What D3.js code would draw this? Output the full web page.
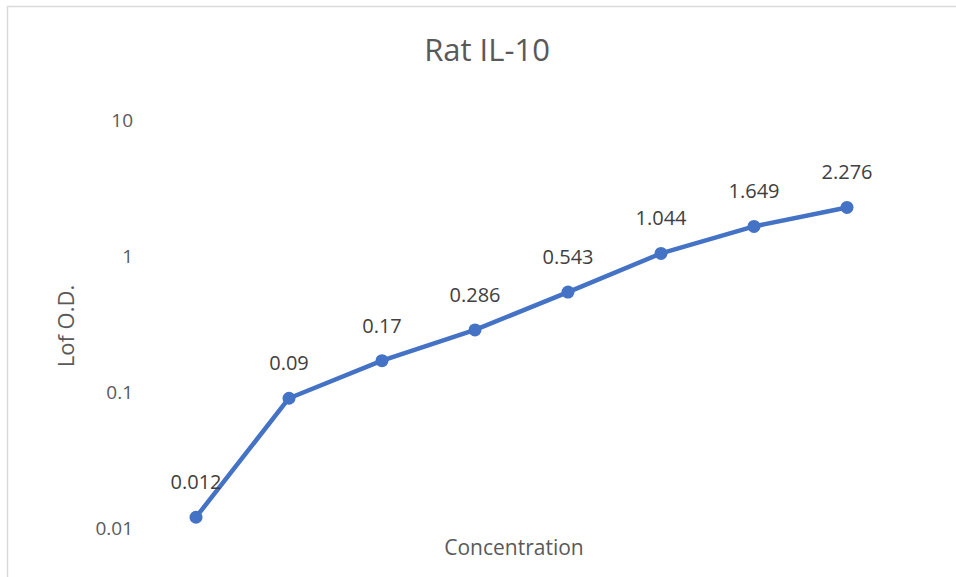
<!DOCTYPE html>
<html>
<head>
<meta charset="utf-8">
<script src="https://cdn.jsdelivr.net/npm/d3@7"></script>
<style>
  body { margin: 0; background: #fff; }
  text { font-family: "Open Sans", "DejaVu Sans", sans-serif; }
</style>
</head>
<body>
<div id="chart"></div>
<script>
var categories = [1, 2, 3, 4, 5, 6, 7, 8];
var values = [0.012, 0.09, 0.17, 0.286, 0.543, 1.044, 1.649, 2.276];
var yTicks = [0.01, 0.1, 1, 10];

var width = 956, height = 577;

var svg = d3.select('#chart')
            .append('svg')
            .attr('width', width)
            .attr('height', height);

// chart area border
svg.append('rect')
   .attr('x', 7.5).attr('y', 6.5)
   .attr('width', width).attr('height', height)
   .attr('fill', '#fff')
   .attr('stroke', '#d9d9d9')
   .attr('stroke-width', 1.5);

var xScale = d3.scalePoint()
               .domain(categories)
               .range([149.5, 893.5])
               .padding(0.5);

var yScale = d3.scaleLog()
               .domain([0.01, 10])
               .range([528, 120]);

var yAxis = d3.axisLeft(yScale)
              .tickValues(yTicks)
              .tickFormat(function (d) { return d3.format('')(d); })
              .tickSize(0)
              .tickPadding(0);

var gy = svg.append('g')
   .attr('transform', 'translate(133, 0)')
   .call(yAxis);
gy.select('.domain').remove();
gy.selectAll('text')
  .attr('font-size', 19)
  .attr('fill', '#595959')
  .style('font-family', '"Open Sans", sans-serif');

// title
svg.append('text')
   .attr('x', 487).attr('y', 61)
   .attr('text-anchor', 'middle')
   .attr('font-size', 31)
   .attr('fill', '#595959')
   .text('Rat IL-10');

// axis titles
svg.append('text')
   .attr('x', 514).attr('y', 555)
   .attr('text-anchor', 'middle')
   .attr('font-size', 21)
   .attr('fill', '#595959')
   .text('Concentration');

svg.append('text')
   .attr('transform', 'translate(74, 326) rotate(-90)')
   .attr('text-anchor', 'middle')
   .attr('font-size', 22)
   .attr('fill', '#595959')
   .text('Lof O.D.');

var line = d3.line()
             .x(function (d, i) { return xScale(categories[i]); })
             .y(function (d) { return yScale(d); });

svg.append('path')
   .datum(values)
   .attr('d', line)
   .attr('fill', 'none')
   .attr('stroke', '#4472C4')
   .attr('stroke-width', 4.5)
   .attr('stroke-linejoin', 'round');

svg.selectAll('circle')
   .data(values)
   .enter()
   .append('circle')
   .attr('cx', function (d, i) { return xScale(categories[i]); })
   .attr('cy', function (d) { return yScale(d); })
   .attr('r', 6.5)
   .attr('fill', '#4472C4');

svg.selectAll('text.lbl')
   .data(values)
   .enter()
   .append('text')
   .attr('class', 'lbl')
   .attr('x', function (d, i) { return xScale(categories[i]); })
   .attr('y', function (d) { return yScale(d) - 28; })
   .attr('text-anchor', 'middle')
   .attr('font-size', 20)
   .attr('fill', '#404040')
   .text(function (d) { return d; });
</script>
</body>
</html>
